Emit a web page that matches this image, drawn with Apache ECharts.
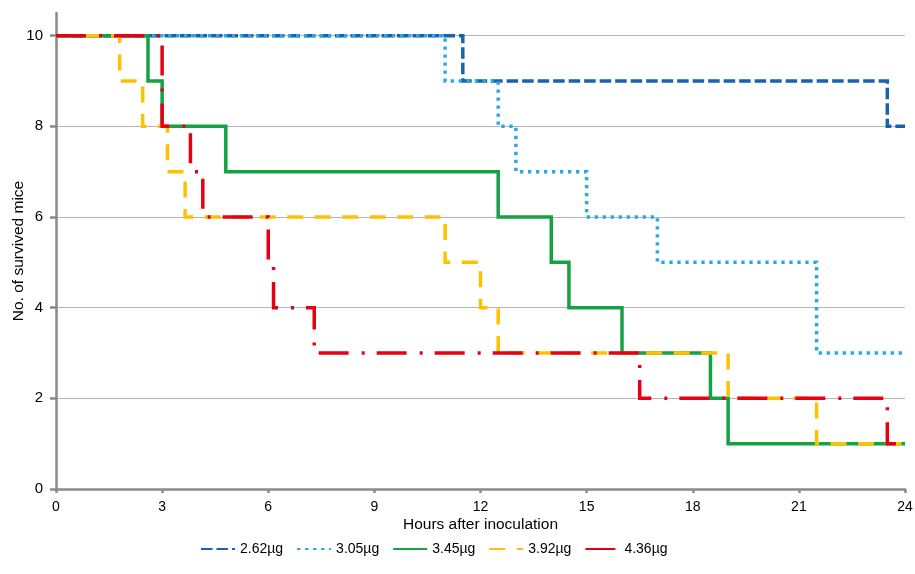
<!DOCTYPE html>
<html>
<head>
<meta charset="utf-8">
<script src="https://cdn.jsdelivr.net/npm/echarts@6/dist/echarts.min.js"></script>
<style>
html,body{margin:0;padding:0;background:#fff;}
#chart{width:915px;height:574px;}
</style>
</head>
<body>
<div id="chart"></div>
<script>
// ---- data ----
const seriesNames = ['2.62µg', '3.05µg', '3.45µg', '3.92µg', '4.36µg'];
// hours at which the survivor count changes, and the count from that hour on
const hours262 = [0, 11.5, 23.5, 24];
const mice262  = [10, 9, 8, 8];
const hours305 = [0, 11, 12.5, 13, 15, 17, 21.5, 24];
const mice305  = [10, 9, 8, 7, 6, 5, 3, 3];
const hours345 = [0, 2.6, 3, 4.8, 12.5, 14, 14.5, 16, 18.5, 19, 24];
const mice345  = [10, 9, 8, 7, 6, 5, 4, 3, 2, 1, 1];
const hours392 = [0, 1.8, 2.45, 3.15, 3.65, 11, 12, 12.5, 19, 21.5, 24];
const mice392  = [10, 9, 8, 7, 6, 5, 4, 3, 2, 1, 1];
const hours436 = [0, 3, 3.8, 4.15, 6, 6.15, 7.3, 16.5, 23.5, 24];
const mice436  = [10, 8, 7, 6, 5, 4, 3, 2, 1, 1];
const yTicks = [0, 2, 4, 6, 8, 10];

const allHours = [hours262, hours305, hours345, hours392, hours436];
const allMice  = [mice262, mice305, mice345, mice392, mice436];

const colors = ['#1a62ad', '#29a9e1', '#16a145', '#fcc200', '#e60014'];
const dashes = [[11.5, 4], [3.3, 4.7], 'solid', [16, 11.5], [30, 13, 3, 12]];

const pair = (h, m) => h.map((t, i) => [t, m[i]]);

const font = '"Liberation Sans", Arial, sans-serif';
const chart = echarts.init(document.getElementById('chart'), null, {renderer: 'canvas'});

chart.setOption({
  animation: false,
  backgroundColor: '#fff',
  textStyle: {fontFamily: font, color: '#000'},
  grid: {left: 56, right: 10, top: 13, bottom: 85, containLabel: false, outerBoundsMode: 'none'},
  legend: {
    bottom: 18,
    left: 200,
    padding: 0,
    itemWidth: 34,
    itemHeight: 10,
    itemGap: 13,
    itemStyle: {opacity: 0},
    textStyle: {fontFamily: font, fontSize: 14, color: '#000'},
    data: seriesNames
  },
  xAxis: {
    type: 'value',
    min: 0, max: 24, interval: 3,
    name: 'Hours after inoculation',
    nameLocation: 'middle',
    nameGap: 28,
    nameMoveOverlap: false,
    nameTextStyle: {fontFamily: font, fontSize: 15.5, color: '#000'},
    axisLine: {show: true, lineStyle: {color: '#8a8a8a', width: 2.5}},
    axisTick: {show: true, length: 4, lineStyle: {color: '#8a8a8a', width: 2.5}},
    axisLabel: {fontFamily: font, fontSize: 14, color: '#000', margin: 11},
    splitLine: {show: false}
  },
  yAxis: {
    type: 'value',
    min: 0, max: 10.5, interval: 2,
    name: 'No. of survived mice',
    nameLocation: 'middle',
    nameGap: 29,
    nameMoveOverlap: false,
    nameTextStyle: {fontFamily: font, fontSize: 15.5, color: '#000'},
    axisLine: {show: true, lineStyle: {color: '#8a8a8a', width: 2.5}},
    axisTick: {show: true, length: 6, customValues: yTicks, lineStyle: {color: '#8a8a8a', width: 2.5}},
    axisLabel: {fontFamily: font, fontSize: 15, color: '#000', margin: 13, customValues: yTicks},
    splitLine: {show: true, lineStyle: {color: ['#b4b4b4','#b4b4b4','#b4b4b4','#b4b4b4','#b4b4b4','#b4b4b4','rgba(0,0,0,0)'], width: 1.2}}
  },
  series: seriesNames.map((name, i) => ({
    name: name,
    type: 'line',
    step: 'end',
    symbol: 'none',
    showSymbol: false,
    z: 2 + i,
    color: colors[i],
    lineStyle: {color: colors[i], width: 3.5, type: dashes[i], cap: 'butt', join: 'miter'},
    data: pair(allHours[i], allMice[i])
  }))
});
</script>
</body>
</html>
